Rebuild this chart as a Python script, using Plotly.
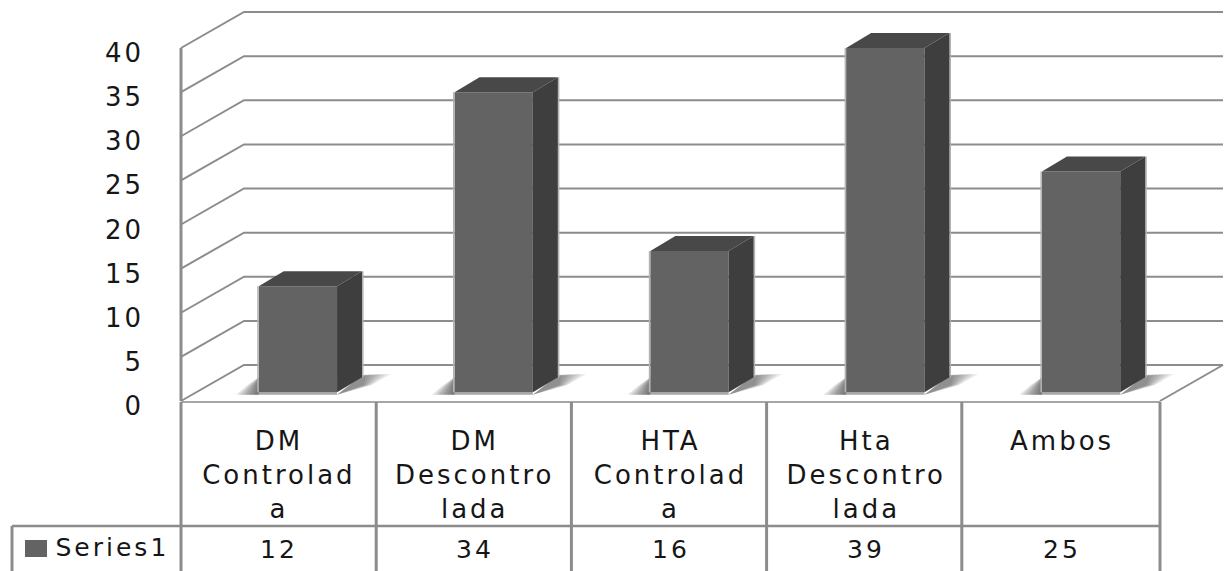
import plotly.graph_objects as go

# Chart data
categories = ["DM<br>Controlad<br>a", "DM<br>Descontro<br>lada", "HTA<br>Controlad<br>a",
              "Hta<br>Descontro<br>lada", "Ambos"]
series_name = "Series1"
series_values = [12, 34, 16, 39, 25]
y_ticks = [0, 5, 10, 15, 20, 25, 30, 35, 40]

# Colours
FRONT = "#636363"
SIDE = "#3e3e3e"
TOP = "#484848"
GRID = "#8c8c8c"
EDGE = "#b4b4b4"
TEXT = "#161616"
FONT = "DejaVu Sans"

# Layout of the plotting box, in pixels
W, H = 1225, 571
LEFT, RIGHT, BOTTOM = 181, 1160, 401
PX_PER_UNIT = 8.825
PX_PER_CAT = (RIGHT - LEFT) / len(series_values)
Y_TOP = BOTTOM / PX_PER_UNIT
Y_MAX = 40
N = len(series_values)

# Oblique projection of the chart walls and the bars, in data units
WALL_DX = 63 / PX_PER_CAT
WALL_DY = 36 / PX_PER_UNIT
BAR_DX = 25 / PX_PER_CAT
BAR_DY = 15 / PX_PER_UNIT
BAR_WIDTH = 0.40
BAR_SHIFT = 0.097
BAR_BASE = 1.0


def paper_x(c):
    return (c + 0.5) / N


def paper_y(v):
    return v / Y_TOP


def pixel_y(p):
    return (BOTTOM - p) / BOTTOM


def pixel_x(p):
    return (p - LEFT) / (RIGHT - LEFT)


def polygon(points):
    coords = " L".join("{:.5f},{:.5f}".format(paper_x(c), paper_y(v)) for c, v in points)
    return "M" + coords + " Z"


shapes = []

# Left wall and back wall gridlines
for v in y_ticks:
    path = "M{},{} L{},{} L{},{}".format(
        paper_x(-0.5), paper_y(v),
        paper_x(-0.5 + WALL_DX), paper_y(v + WALL_DY),
        paper_x(N - 0.5 + WALL_DX), paper_y(v + WALL_DY),
    )
    shapes.append(dict(type="path", path=path, xref="paper", yref="paper", layer="below",
                       line=dict(color=GRID, width=2)))

# Vertical axis line, up to the last tick
shapes.append(dict(type="line", xref="paper", yref="paper", layer="below",
                   x0=0, x1=0, y0=paper_y(0), y1=paper_y(Y_MAX),
                   line=dict(color=GRID, width=3)))

# Right edge of the floor
shapes.append(dict(type="line", xref="paper", yref="paper", layer="below",
                   x0=paper_x(N - 0.5), y0=paper_y(0),
                   x1=paper_x(N - 0.5 + WALL_DX), y1=paper_y(WALL_DY),
                   line=dict(color=GRID, width=2)))

# Soft floor shadow beside each bar, built from nested translucent layers
SHADOW_LAYERS = (1.0, 0.86, 0.72, 0.58, 0.44, 0.3, 0.16)
for i in range(N):
    left = i + BAR_SHIFT - BAR_WIDTH / 2
    right = i + BAR_SHIFT + BAR_WIDTH / 2
    low = BAR_BASE - 0.3
    for reach in SHADOW_LAYERS:
        left_shadow = polygon([
            (left, BAR_BASE + 1.7),
            (left - 0.06 * reach, BAR_BASE + 0.75),
            (left - 0.115 * reach, low),
            (left, low),
        ])
        right_shadow = polygon([
            (right, low),
            (right + BAR_DX, BAR_BASE + BAR_DY + 0.2),
            (right + BAR_DX + 0.145 * reach, BAR_BASE + BAR_DY + 0.35),
            (right + BAR_DX + 0.05 * reach, BAR_BASE + 0.8),
        ])
        shapes.append(dict(type="path", path=left_shadow, xref="paper", yref="paper", layer="below",
                           fillcolor="rgba(50,50,50,0.13)", line=dict(width=0)))
        shapes.append(dict(type="path", path=right_shadow, xref="paper", yref="paper", layer="below",
                           fillcolor="rgba(50,50,50,0.10)", line=dict(width=0)))
    shapes.append(dict(type="path", xref="paper", yref="paper", layer="below",
                       path=polygon([(left, BAR_BASE), (right, BAR_BASE), (right, low), (left, low)]),
                       fillcolor="rgba(60,60,60,0.45)", line=dict(width=0)))

# Data table grid under the chart
TABLE_STEP = 195.2
for i in range(N + 1):
    px = LEFT + TABLE_STEP * i if i < N else RIGHT
    shapes.append(dict(type="line", xref="paper", yref="paper", layer="above",
                       x0=pixel_x(px), x1=pixel_x(px), y0=pixel_y(402), y1=pixel_y(H + 2),
                       line=dict(color=GRID, width=3)))
shapes.append(dict(type="line", xref="paper", yref="paper", layer="above",
                   x0=pixel_x(12), x1=1, y0=pixel_y(526), y1=pixel_y(526),
                   line=dict(color=GRID, width=2.5)))
shapes.append(dict(type="line", xref="paper", yref="paper", layer="above",
                   x0=pixel_x(12), x1=pixel_x(12), y0=pixel_y(526), y1=pixel_y(H + 2),
                   line=dict(color=GRID, width=3)))

# Legend key in the first table column
shapes.append(dict(type="rect", xref="paper", yref="paper", layer="above",
                   x0=pixel_x(25), x1=pixel_x(47), y0=pixel_y(557), y1=pixel_y(540),
                   fillcolor=FRONT, line=dict(width=0)))

fig = go.Figure()

# Front faces of the bars
fig.add_trace(go.Bar(
    x=[i + BAR_SHIFT for i in range(N)],
    y=series_values,
    base=BAR_BASE,
    width=BAR_WIDTH,
    marker=dict(color=FRONT, line=dict(width=0)),
    name=series_name,
    cliponaxis=False,
    showlegend=False,
))

# Right side and top faces of the bars, with their pale outer edges
for i, v in enumerate(series_values):
    left = i + BAR_SHIFT - BAR_WIDTH / 2
    right = i + BAR_SHIFT + BAR_WIDTH / 2
    top = v + BAR_BASE
    fig.add_trace(go.Scatter(
        x=[left - 0.004, left - 0.004, None, right + BAR_DX + 0.004, right + BAR_DX + 0.004],
        y=[BAR_BASE, top, None, BAR_BASE + BAR_DY, top + BAR_DY],
        mode="lines", line=dict(color=EDGE, width=1.5),
        cliponaxis=False, showlegend=False, hoverinfo="skip",
    ))
    fig.add_trace(go.Scatter(
        x=[right, right + BAR_DX, right + BAR_DX, right, right],
        y=[BAR_BASE, BAR_BASE + BAR_DY, top + BAR_DY, top, BAR_BASE],
        mode="lines", fill="toself", fillcolor=SIDE, line=dict(width=0),
        cliponaxis=False, showlegend=False, hoverinfo="skip",
    ))
    fig.add_trace(go.Scatter(
        x=[left, left + BAR_DX, right + BAR_DX, right, left],
        y=[top, top + BAR_DY, top + BAR_DY, top, top],
        mode="lines", fill="toself", fillcolor=TOP, line=dict(width=0),
        cliponaxis=False, showlegend=False, hoverinfo="skip",
    ))

# Table row with the series name and its values
annotations = [dict(xref="paper", yref="paper", x=pixel_x(64), y=pixel_y(547),
                    xanchor="left", yanchor="middle", showarrow=False, text=series_name,
                    font=dict(family=FONT, size=25, color=TEXT))]
for i, v in enumerate(series_values):
    annotations.append(dict(xref="x", yref="paper", x=i, y=pixel_y(549),
                            xanchor="center", yanchor="middle", showarrow=False, text=str(v),
                            font=dict(family=FONT, size=25, color=TEXT)))

fig.update_layout(
    width=W, height=H,
    margin=dict(l=LEFT, r=W - RIGHT, t=0, b=H - BOTTOM, pad=0),
    paper_bgcolor="white", plot_bgcolor="rgba(0,0,0,0)",
    shapes=shapes, annotations=annotations,
    showlegend=False,
    xaxis=dict(
        range=[-0.5, N - 0.5], tickmode="array", tickvals=list(range(N)), ticktext=categories,
        showgrid=False, zeroline=False, showline=True, linecolor="#a6a6a6", linewidth=2,
        ticks="", tickangle=0, ticklabelstandoff=16,
        tickfont=dict(family=FONT, size=26, color=TEXT),
    ),
    yaxis=dict(
        range=[0, Y_TOP], tickmode="array", tickvals=y_ticks,
        showgrid=False, zeroline=False, showline=False,
        ticks="", ticklabelstandoff=36, ticklabelshift=5,
        tickfont=dict(family=FONT, size=26, color=TEXT),
    ),
)

# Wide tracking for the chart's lettering
widen = ("var s=document.createElement('style');"
         "s.textContent='.main-svg text{letter-spacing:3px}';"
         "document.head.appendChild(s);")
fig.write_html("out.html", post_script=widen)
